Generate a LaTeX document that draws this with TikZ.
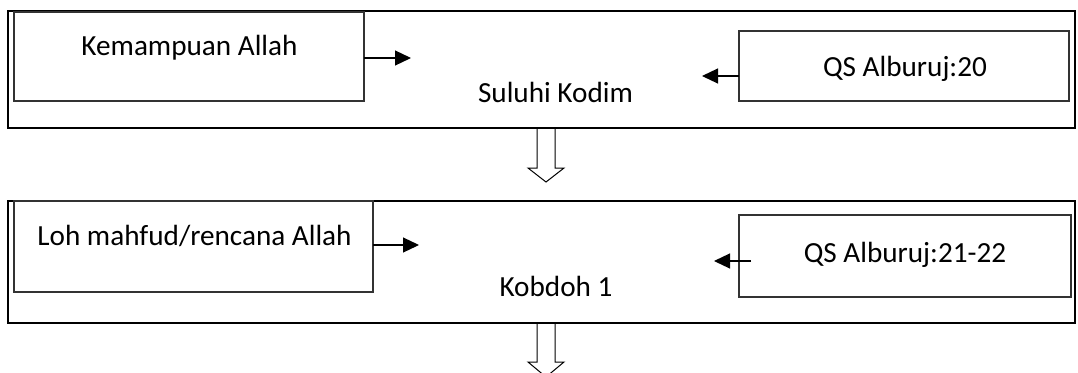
\documentclass[tikz,border=0pt]{standalone}
\usepackage{fontspec}
\setmainfont{Carlito}
\usetikzlibrary{arrows.meta, positioning}

\begin{document}
\begin{tikzpicture}[x=1pt,y=-1pt,->,>={Triangle[length=16pt,width=15pt]},line width=1.2pt,
	font=\fontsize{29.2}{35}\selectfont]
	
	\tikzset{outer box/.style={draw, line width=2pt, inner sep=0, outer sep=0,
			anchor=north west}}
	\tikzset{inner box/.style={draw=black!80, line width=1.3pt, inner sep=0,
			outer sep=0, anchor=north west}}
	\tikzset{txt/.style={anchor=base, inner sep=0}}
	\tikzset{fat arrow/.style={-, draw, line width=1pt}}
	
	\useasboundingbox (0,0) rectangle (1078,372);
	
	% first row
	\node[outer box, minimum width=1067pt, minimum height=117pt] (suluhbox) at (8,11) {};
	\node[inner box, minimum width=350pt, minimum height=89pt] (kembox) at (14,12) {};
	\node[inner box, minimum width=330pt, minimum height=70pt] (qsbox) at (739,31) {};
	\node[txt] (kem) at (189.5,55) {Kemampuan Allah};
	\node[txt] (qs) at (905,76) {QS Alburuj:20};
	\node[txt] (suluh) at (555.5,102) {Suluhi Kodim};
	\coordinate (e1) at (411,58);
	\coordinate (e2) at (702,76);
	
	% second row
	\node[outer box, minimum width=1067pt, minimum height=122pt] (kobbox) at (8,201) {};
	\node[inner box, minimum width=359pt, minimum height=91pt] (lohbox) at (14,201) {};
	\node[inner box, minimum width=332pt, minimum height=82pt] (qsbbox) at (739,215) {};
	\node[txt] (loh) at (194.5,245) {Loh mahfud/rencana Allah};
	\node[txt] (qsb) at (905,262) {QS Alburuj:21-22};
	\node[txt] (kob) at (556,296) {Kobdoh 1};
	\coordinate (e3) at (419,245);
	\coordinate (s4) at (751,261);
	\coordinate (e4) at (714,261);
	
	\draw (kembox.east |- e1) -- (e1);
	\draw (qsbox.west |- e2) -- (e2);
	\draw (lohbox.east |- e3) -- (e3);
	\draw (s4) -- (e4);
	
	% hollow arrows between the rows
	\foreach \t/\h in {128/40, 323/39}
	\draw[fat arrow] (537,\t) -- (537,\t+\h) -- (528,\t+\h) -- (546,\t+54)
	-- (564,\t+\h) -- (555,\t+\h) -- (555,\t);
\end{tikzpicture}
\end{document}
